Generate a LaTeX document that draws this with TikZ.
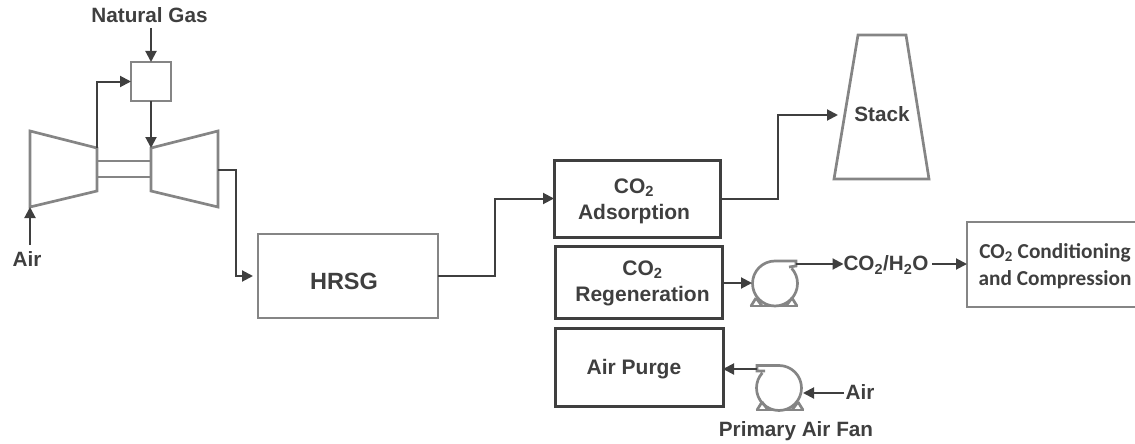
\documentclass[tikz,border=0pt]{standalone}
\usepackage{fontspec}
\setmainfont{Liberation Sans}
\newfontfamily\calib{Carlito}
\usetikzlibrary{arrows.meta}
\definecolor{gb}{HTML}{858585}
\definecolor{dk}{HTML}{3F3F3F}
\newcommand{\shifted}[3]{\hspace*{#1}\raisebox{#2}[0pt][0pt]{#3}}
\tikzset{
 x=1pt,y=-1pt,
 every node/.style={outer sep=0pt},
 graybox/.style={draw=gb,line width=2.7pt,inner sep=0pt,anchor=north west},
 darkbox/.style={draw=dk,line width=3pt,inner sep=0pt,anchor=north west,align=center,font=\bfseries\fontsize{21}{26}\selectfont,text=dk},
 lab/.style={font=\bfseries\fontsize{20.7}{24}\selectfont,text=dk,inner sep=0pt},
 conn/.style={draw=dk,line width=2pt,-{Triangle[length=11pt,width=11pt]}},
 shape line/.style={draw=gb,line width=2.7pt,line join=miter},
}
\begin{document}
\begin{tikzpicture}
\useasboundingbox (0,0) rectangle (1135,444);
% labels
\node[lab] (ng) at (149.5,15) {Natural Gas};
\node[lab] (airl) at (27,259) {Air};
\node[lab] (paf) at (796,431) {Primary Air Fan};
\node[lab] (air2) at (860,392) {Air};
\node[lab] (coh) at (886,265) {CO\textsubscript{2}/H\textsubscript{2}O};
\node[lab] (stackl) at (882,114) {Stack};
% combustor
\node[graybox,minimum width=40pt,minimum height=39pt] (comb) at (131,62) {};
% compressor / turbine
\coordinate (cin) at (30,207);
\coordinate (cout) at (97,148);
\coordinate (tin) at (151,148);
\coordinate (tout) at (218,170);
\draw[shape line] (30,131) -- (97,148) -- (97,191) -- (30,207) -- cycle;
\draw[shape line] (218,131) -- (151,148) -- (151,191) -- (218,207) -- cycle;
\draw[draw=gb,line width=2.4pt] (97,161) -- (151,161) (97,177) -- (151,177);
% boxes
\node[graybox,minimum width=180pt,minimum height=84pt,font=\bfseries\fontsize{23.5}{26}\selectfont,text=dk] (hrsg) at (258,234) {\shifted{-8pt}{-13pt}{HRSG}};
\node[darkbox,minimum width=166pt,minimum height=77pt] (ads) at (554,160) {\shifted{-6pt}{-7.5pt}{\begin{tabular}{@{}c@{}}CO\textsubscript{2}\\Adsorption\end{tabular}}};
\node[darkbox,minimum width=167pt,minimum height=72pt] (reg) at (555,246) {\shifted{8pt}{-6.5pt}{\begin{tabular}{@{}c@{}}CO\textsubscript{2}\\Regeneration\end{tabular}}};
\node[darkbox,minimum width=168pt,minimum height=78pt] (purge) at (555,328) {\shifted{-10pt}{-7pt}{Air Purge}};
\node[graybox,minimum width=172pt,minimum height=85pt,align=center,font=\calib\bfseries\fontsize{21.3}{27}\selectfont,text=dk] (cond) at (967,222) {\shifted{4pt}{-7pt}{\begin{tabular}{@{}c@{}}CO\textsubscript{2} Conditioning\\and Compression\end{tabular}}};
% stack
\draw[shape line] (858,35) -- (906,35) -- (929,179) -- (834,179) -- cycle;
\coordinate (stk) at (838,115);
% fan 1
\coordinate (f1in) at (752,283);
\coordinate (f1out) at (796,264);
\draw[shape line] (750,306) -- (798,306);
\draw[shape line] (751,306) -- (756,298) (762,306) -- (756,298);
\draw[shape line] (797,306) -- (792,298) (786,306) -- (792,298);
\draw[shape line] (789,267) -- (796,266) -- (796,261) -- (775,261) arc[start angle=-90,end angle=-402,radius=22.5];
% fan 2
\coordinate (f2in) at (803,393);
\coordinate (f2out) at (757,369);
\draw[shape line] (756,410) -- (804,410);
\draw[shape line] (757,410) -- (762,402) (768,410) -- (762,402);
\draw[shape line] (803,410) -- (798,402) (792,410) -- (798,402);
\draw[shape line] (765,371) -- (757,371) -- (757,365.5) -- (779,365.5) arc[start angle=-90,end angle=222,radius=22.5];
% connectors
\coordinate (ngs) at (151,28);
\coordinate (airs) at (30,245);
\coordinate (cohe) at (932,264);
\coordinate (air2e) at (844,393);
\draw[conn] (ngs) -- (comb.north);
\draw[conn] (cout) |- (comb.west);
\draw[conn] (comb.south) -- (tin);
\draw[conn] (airs) -- (cin);
\draw[conn,shorten >=5pt] (tout) -- (236,170) |- (hrsg.west);
\draw[conn] (hrsg.east) -- (495,276) |- (ads.west);
\draw[conn] (ads.east) -- (778,198.5) |- (stk);
\draw[conn] (reg.east |- f1in) -- (f1in);
\draw[conn] (f1out) -- (coh.west |- f1out);
\draw[conn] (cohe) -- (cond.west |- cohe);
\draw[conn] (f2out) -- (purge.east |- f2out);
\draw[conn] (air2e) -- (f2in);
\end{tikzpicture}
\end{document}
